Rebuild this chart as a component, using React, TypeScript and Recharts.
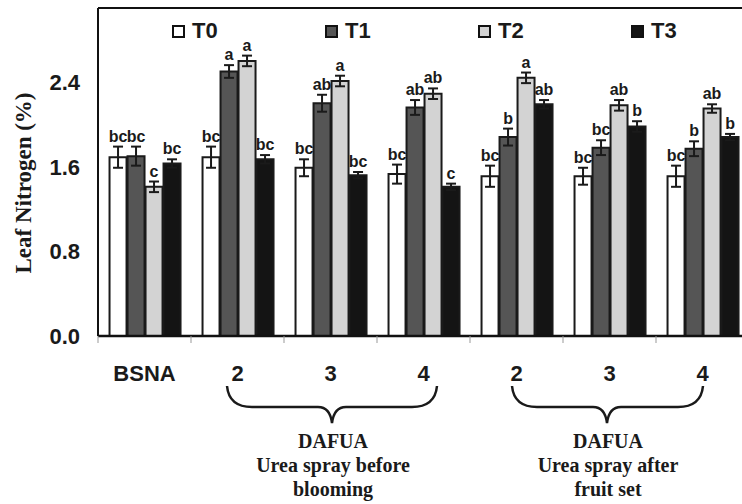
import { Bar, ComposedChart, ErrorBar, LabelList, ReferenceLine, XAxis, YAxis } from "recharts";

const CATEGORIES = ["BSNA", "2", "3", "4", "2", "3", "4"];

const T0 = [1.69, 1.69, 1.59, 1.53, 1.51, 1.51, 1.51];
const T1 = [1.7, 2.5, 2.2, 2.16, 1.88, 1.78, 1.77];
const T2 = [1.41, 2.6, 2.41, 2.29, 2.44, 2.18, 2.15];
const T3 = [1.63, 1.67, 1.52, 1.41, 2.19, 1.98, 1.88];

const E0 = [0.1, 0.1, 0.08, 0.09, 0.1, 0.08, 0.1];
const E1 = [0.09, 0.06, 0.08, 0.07, 0.08, 0.07, 0.07];
const E2 = [0.05, 0.05, 0.05, 0.05, 0.05, 0.05, 0.04];
const E3 = [0.04, 0.04, 0.03, 0.03, 0.04, 0.05, 0.03];

const L0 = ["bc", "bc", "bc", "bc", "bc", "bc", "bc"];
const L1 = ["bc", "a", "ab", "ab", "b", "bc", "b"];
const L2 = ["c", "a", "a", "ab", "a", "ab", "ab"];
const L3 = ["bc", "bc", "bc", "c", "ab", "b", "b"];

const Y_TICKS = [0, 0.8, 1.6, 2.4];

const SERIES = [
  { key: "T0", values: T0, errors: E0, letters: L0, fill: "#ffffff" },
  { key: "T1", values: T1, errors: E1, letters: L1, fill: "#555555" },
  { key: "T2", values: T2, errors: E2, letters: L2, fill: "#d3d3d3" },
  { key: "T3", values: T3, errors: E3, letters: L3, fill: "#141414" },
];

const data = CATEGORIES.map((name, i) => {
  const row: Record<string, string | number> = { name };
  for (const s of SERIES) {
    row[s.key] = s.values[i];
    row[s.key + "_err"] = s.errors[i];
    row[s.key + "_lab"] = s.letters[i];
  }
  return row;
});

const CHART_W = 760;
const CHART_H = 504;
const MARGIN = { top: 8, right: 11, bottom: 118, left: 38 };
const Y_W = 60;
const HALF_BAND = (CHART_W - MARGIN.left - MARGIN.right - Y_W) / CATEGORIES.length / 2;

const SANS = "'Liberation Sans', Arial, sans-serif";
const SERIF = "'Liberation Serif', 'Times New Roman', serif";

function XTick(props: any) {
  const { x, y, payload } = props;
  return (
    <g>
      <line x1={x - HALF_BAND} y1={y} x2={x - HALF_BAND} y2={y + 7} stroke="#999" strokeWidth={1} />
      <text x={x} y={y + 45} textAnchor="middle" fontFamily={SANS} fontWeight="bold" fontSize={22} fill="#1a1a1a">
        {payload.value}
      </text>
    </g>
  );
}

function makeLabel(values: number[], errors: number[]) {
  return (props: any) => {
    const { x, y, width, height, index, value } = props;
    const pxPerUnit = height / values[index];
    const top = y - errors[index] * pxPerUnit;
    return (
      <text x={x + width / 2} y={top - 5} textAnchor="middle" fontFamily={SANS} fontWeight="bold" fontSize={16} fill="#1a1a1a">
        {value}
      </text>
    );
  };
}

const BRACES = [
  { left: 227, right: 437, mid: 332, lines: ["DAFUA", "Urea spray before", "blooming"] },
  { left: 512, right: 703, mid: 607, lines: ["DAFUA", "Urea spray after", "fruit set"] },
];

export default function App() {
  return (
    <div style={{ position: "absolute", left: 0, top: 0, width: 742, height: 504, overflow: "hidden", background: "#fff" }}>
      <ComposedChart width={CHART_W} height={CHART_H} data={data} margin={MARGIN} barCategoryGap="12.4%" barGap={1}>
        <XAxis
          dataKey="name"
          tick={<XTick />}
          tickLine={false}
          tickSize={0}
          tickMargin={0}
          height={50}
          axisLine={{ stroke: "#111", strokeWidth: 2.5 }}
          interval={0}
        />
        <YAxis
          domain={[0, 3.1]}
          ticks={Y_TICKS}
          tickFormatter={(v) => v.toFixed(1)}
          width={Y_W}
          tickLine={false}
          tickSize={8}
          tickMargin={10}
          axisLine={{ stroke: "#111", strokeWidth: 2 }}
          tick={{ fontFamily: SANS, fontWeight: "bold", fontSize: 22, fill: "#1a1a1a" }}
        />
        <ReferenceLine y={3.1} stroke="#111" strokeWidth={2} />
        {SERIES.map((s) => (
          <Bar key={s.key} dataKey={s.key} fill={s.fill} stroke="#1a1a1a" strokeWidth={2} isAnimationActive={false}>
            <ErrorBar dataKey={s.key + "_err"} width={5} stroke="#1a1a1a" strokeWidth={2} isAnimationActive={false} />
            <LabelList dataKey={s.key + "_lab"} content={makeLabel(s.values, s.errors)} />
          </Bar>
        ))}
      </ComposedChart>
      {/* legend sits inside the plot frame, so it is laid over the chart */}
      <div style={{ position: "absolute", left: 172, top: 19, display: "flex", fontFamily: SANS }}>
        {SERIES.map((s) => (
          <div key={s.key} style={{ width: 153, display: "flex", alignItems: "center" }}>
            <span style={{ width: 9, height: 9, border: "2.5px solid #111", background: s.fill, marginRight: 7 }} />
            <span style={{ fontSize: 22, fontWeight: "bold", color: "#1a1a1a", lineHeight: "24px" }}>{s.key}</span>
          </div>
        ))}
      </div>
      <svg width={742} height={504} style={{ position: "absolute", left: 0, top: 0, pointerEvents: "none" }}>
        <text
          transform="translate(31,183) rotate(-90)"
          textAnchor="middle"
          fontFamily={SERIF}
          fontWeight="bold"
          fontSize={23}
          fill="#1a1a1a"
        >
          Leaf Nitrogen (%)
        </text>
        {BRACES.map((b, i) => (
          <g key={i}>
            <path
              d={`M ${b.left} 386 Q ${b.left + 2} 407 ${b.left + 25} 407 L ${b.mid - 14} 407 Q ${b.mid - 2} 407 ${b.mid} 423 Q ${b.mid + 2} 407 ${b.mid + 14} 407 L ${b.right - 25} 407 Q ${b.right - 2} 407 ${b.right} 386`}
              fill="none"
              stroke="#1a1a1a"
              strokeWidth={2.5}
            />
            {b.lines.map((t, j) => (
              <text
                key={j}
                x={b.mid + 1}
                y={448 + j * 24}
                textAnchor="middle"
                fontFamily={SERIF}
                fontWeight="bold"
                fontSize={20}
                fill="#1a1a1a"
              >
                {t}
              </text>
            ))}
          </g>
        ))}
      </svg>
    </div>
  );
}
